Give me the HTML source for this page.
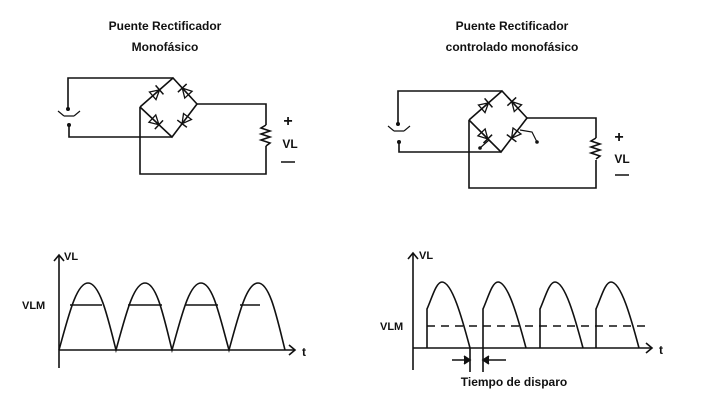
<!DOCTYPE html>
<html><head><meta charset="utf-8"><style>
html,body{margin:0;padding:0;background:#fff}
svg{display:block}
text{font-family:"Liberation Sans",sans-serif;font-weight:bold;fill:#111}
</style></head><body>
<svg width="726" height="408" viewBox="0 0 726 408" xmlns="http://www.w3.org/2000/svg">
<defs>
<g id="d"><polygon points="-5,-5 -5,5 4,0" fill="none" stroke="#111" stroke-width="1.3"/><line x1="4" y1="-6" x2="4" y2="6" stroke="#111" stroke-width="1.5"/><line x1="-9" y1="0" x2="9" y2="0" stroke="#111" stroke-width="1.2"/></g>
</defs>
<g stroke="#111" stroke-width="1.6" fill="none">
<polyline points="68,109 68,78 173,78"/>
<polyline points="69,125 69,137 172,137"/>
<polyline points="197,104 266,104 266,125"/>
<polyline points="266,146 266,174 140,174 140,107"/>
<polyline points="140,107 173,78 197,104 172,137 140,107"/>
<path d="M266,125 l-5,3 l9,3 l-9,3 l9,3 l-9,3 l9,3 l-4,3"/>
<path d="M58,111 l6,5 M80,111 l-6,5 M64,116 h10" stroke-width="1.2"/>
<polyline points="398,124 398,91 502,91"/>
<polyline points="399,142 399,152 501,152"/>
<polyline points="527,118 596,118 596,138"/>
<polyline points="596,160 596,188 469,188 469,120"/>
<polyline points="469,120 502,91 527,118 501,152 469,120"/>
<path d="M596,138 l-5,3 l9,3 l-9,3 l9,3 l-9,3 l9,3 l-4,3"/>
<path d="M388,126 l6,5 M410,126 l-6,5 M394,131 h10" stroke-width="1.2"/>
<path d="M489,140 l-9,8 M520,130 l12,2 l5,10" stroke-width="1.2"/>
<line x1="59" y1="255" x2="59" y2="368"/>
<path d="M54,261 L59,255 L64,261"/>
<line x1="59" y1="350" x2="295" y2="350"/>
<path d="M289,345 L295,350 L289,355"/>
<path d="M59,350 C68,318 76,283 88,283 C100,283 108,318 116,350 C125,318 133,283 145,283 C157,283 164,318 172,350 C181,318 189,283 201,283 C213,283 220,318 229,350 C238,318 246,283 258,283 C270,283 277,318 285,350"/>
<path d="M70,305 H102 M128,305 H162 M185,305 H218 M240,305 H260"/>
<line x1="413" y1="253" x2="413" y2="370"/>
<path d="M408,259 L413,253 L418,259"/>
<line x1="413" y1="348" x2="652" y2="348"/>
<path d="M646,343 L652,348 L646,353"/>
<path d="M427,348 V309 C432,298 436,282 442,282 C452,282 462,318 470,348 M483,348 V309 C488,298 492,282 498,282 C508,282 518,318 526,348 M540,348 V309 C545,298 549,282 555,282 C565,282 575,318 583,348 M596,348 V309 C601,298 605,282 611,282 C621,282 631,318 639,348"/>
<line x1="427" y1="326" x2="645" y2="326" stroke-dasharray="8,6"/>
<path d="M470,348 V372 M483,348 V372 M452,360 H470 M506,360 H483"/>
<path d="M464,356 L470,360 L464,364 M489,356 L483,360 L489,364" fill="#111"/>
</g>
<g>
<use href="#d" transform="translate(156.5,92.5) rotate(-41)"/>
<use href="#d" transform="translate(156,122) rotate(43)"/>
<use href="#d" transform="translate(185,91) rotate(227)"/>
<use href="#d" transform="translate(184.5,120.5) rotate(127)"/>
<use href="#d" transform="translate(485.5,105.5) rotate(-41)"/>
<use href="#d" transform="translate(485,136) rotate(46)"/>
<use href="#d" transform="translate(514.5,104.5) rotate(227)"/>
<use href="#d" transform="translate(514,135) rotate(127)"/>
</g>
<g fill="#111"><circle cx="68" cy="109" r="2"/><circle cx="69" cy="125" r="2"/><circle cx="398" cy="124" r="2"/><circle cx="399" cy="142" r="2"/><circle cx="480" cy="148" r="1.8"/><circle cx="537" cy="142" r="1.8"/></g>
<text x="165" y="30" font-size="12" text-anchor="middle">Puente Rectificador</text>
<text x="165" y="51" font-size="12" text-anchor="middle">Monofásico</text>
<text x="512" y="30" font-size="12" text-anchor="middle">Puente Rectificador</text>
<text x="512" y="51" font-size="12" text-anchor="middle">controlado monofásico</text>
<text x="288" y="126" font-size="16" text-anchor="middle" font-weight="normal">+</text>
<text x="290" y="148" font-size="12" text-anchor="middle">VL</text>
<line x1="281" y1="162" x2="295" y2="162" stroke="#111" stroke-width="1.5"/>
<text x="619" y="142" font-size="16" text-anchor="middle" font-weight="normal">+</text>
<text x="622" y="163" font-size="12" text-anchor="middle">VL</text>
<line x1="615" y1="175" x2="629" y2="175" stroke="#111" stroke-width="1.5"/>
<text x="64" y="260" font-size="11">VL</text>
<text x="22" y="309" font-size="11">VLM</text>
<text x="302" y="356" font-size="12">t</text>
<text x="419" y="259" font-size="11">VL</text>
<text x="380" y="330" font-size="11">VLM</text>
<text x="659" y="354" font-size="12">t</text>
<text x="514" y="386" font-size="12" text-anchor="middle">Tiempo de disparo</text>
</svg>
</body></html>
